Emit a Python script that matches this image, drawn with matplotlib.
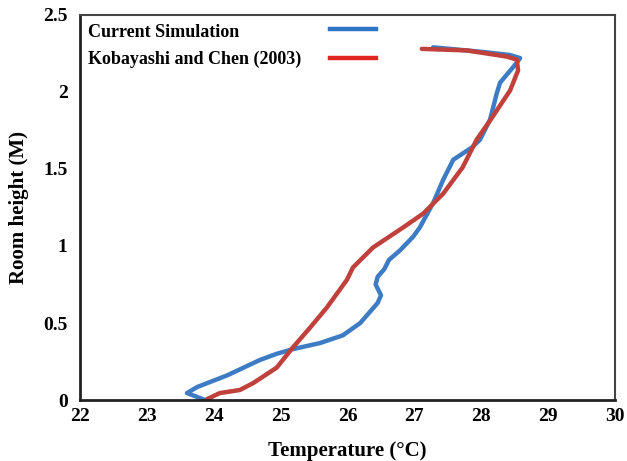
import matplotlib
matplotlib.use("Agg")
import matplotlib.pyplot as plt
from matplotlib.lines import Line2D

# Current Simulation (temperature in °C, height in m)
sim_temp = [23.87, 23.60, 23.75, 24.20, 24.69, 24.94, 25.18, 25.59, 25.93, 26.19,
            26.33, 26.45, 26.50, 26.42, 26.45, 26.55, 26.62, 26.78, 26.98, 27.08,
            27.28, 27.43, 27.58, 27.72, 27.86, 27.98, 28.13, 28.23, 28.28, 28.53,
            28.58, 28.43, 28.02, 27.53, 27.28]
sim_height = [0.0, 0.045, 0.084, 0.16, 0.26, 0.30, 0.33, 0.37, 0.42, 0.50,
              0.57, 0.63, 0.68, 0.75, 0.80, 0.85, 0.91, 0.97, 1.06, 1.12,
              1.28, 1.43, 1.56, 1.60, 1.64, 1.69, 1.82, 1.99, 2.06, 2.19,
              2.22, 2.24, 2.26, 2.28, 2.29]

# Kobayashi and Chen (2003)
kc_temp = [23.90, 24.09, 24.39, 24.59, 24.94, 25.18, 25.44, 25.69, 25.99, 26.08,
           26.38, 26.83, 27.13, 27.43, 27.72, 27.93, 28.17, 28.43, 28.55, 28.53,
           28.38, 27.78, 27.11]
kc_height = [0.006, 0.045, 0.065, 0.11, 0.21, 0.34, 0.47, 0.60, 0.78, 0.86,
             0.99, 1.12, 1.21, 1.34, 1.51, 1.69, 1.84, 2.01, 2.14, 2.21,
             2.23, 2.27, 2.28]

x_ticks = [22, 23, 24, 25, 26, 27, 28, 29, 30]
y_ticks = [0, 0.5, 1, 1.5, 2, 2.5]
y_tick_labels = ["0", "0.5", "1", "1.5", "2", "2.5"]
series_names = ["Current Simulation", "Kobayashi and Chen (2003)"]

plt.rcParams['font.family'] = ['Liberation Serif', 'DejaVu Serif']
plt.rcParams['font.weight'] = 'bold'

fig = plt.figure(figsize=(6.27, 4.61), dpi=100)
ax = fig.add_axes([0.1276, 0.1323, 0.8534, 0.8352])

blue = "#3D7CC4"
red = "#C0403C"
ax.plot(sim_temp, sim_height, color=blue, lw=3.2, solid_joinstyle='round',
        solid_capstyle='round')
ax.plot(kc_temp, kc_height, color=red, lw=3.2, solid_joinstyle='round',
        solid_capstyle='round')

ax.set_xlim(22, 30)
ax.set_ylim(0, 2.5)
ax.set_xticks(x_ticks)
ax.set_xticklabels([str(t) for t in x_ticks], fontsize=14, fontweight='bold')
ax.set_yticks(y_ticks)
ax.set_yticklabels(y_tick_labels, fontsize=14, fontweight='bold')
ax.tick_params(axis='both', length=0)
ax.tick_params(axis='x', pad=6)
ax.tick_params(axis='y', pad=9)

for side in ['left', 'bottom']:
    ax.spines[side].set_linewidth(2.0)
    ax.spines[side].set_color('#222222')
for side in ['top', 'right']:
    ax.spines[side].set_linewidth(1.5)
    ax.spines[side].set_color('#444444')

ax.set_xlabel("Temperature (\u00b0C)", fontsize=15, fontweight='bold', labelpad=11)
ax.set_ylabel("Room height (M)", fontsize=15, fontweight='bold', labelpad=10)

# legend drawn manually: text on left, line sample on right
ax.text(0.015, 0.955, series_names[0], transform=ax.transAxes, fontsize=13,
        fontweight='bold', va='center', ha='left')
ax.text(0.015, 0.885, series_names[1], transform=ax.transAxes, fontsize=13,
        fontweight='bold', va='center', ha='left')
ax.add_line(Line2D([0.468, 0.553], [0.963, 0.963], transform=ax.transAxes,
                   color="#2E75C6", lw=3.2))
ax.add_line(Line2D([0.468, 0.553], [0.888, 0.888], transform=ax.transAxes,
                   color="#E02424", lw=3.2))

fig.savefig("out.png", dpi=100)
